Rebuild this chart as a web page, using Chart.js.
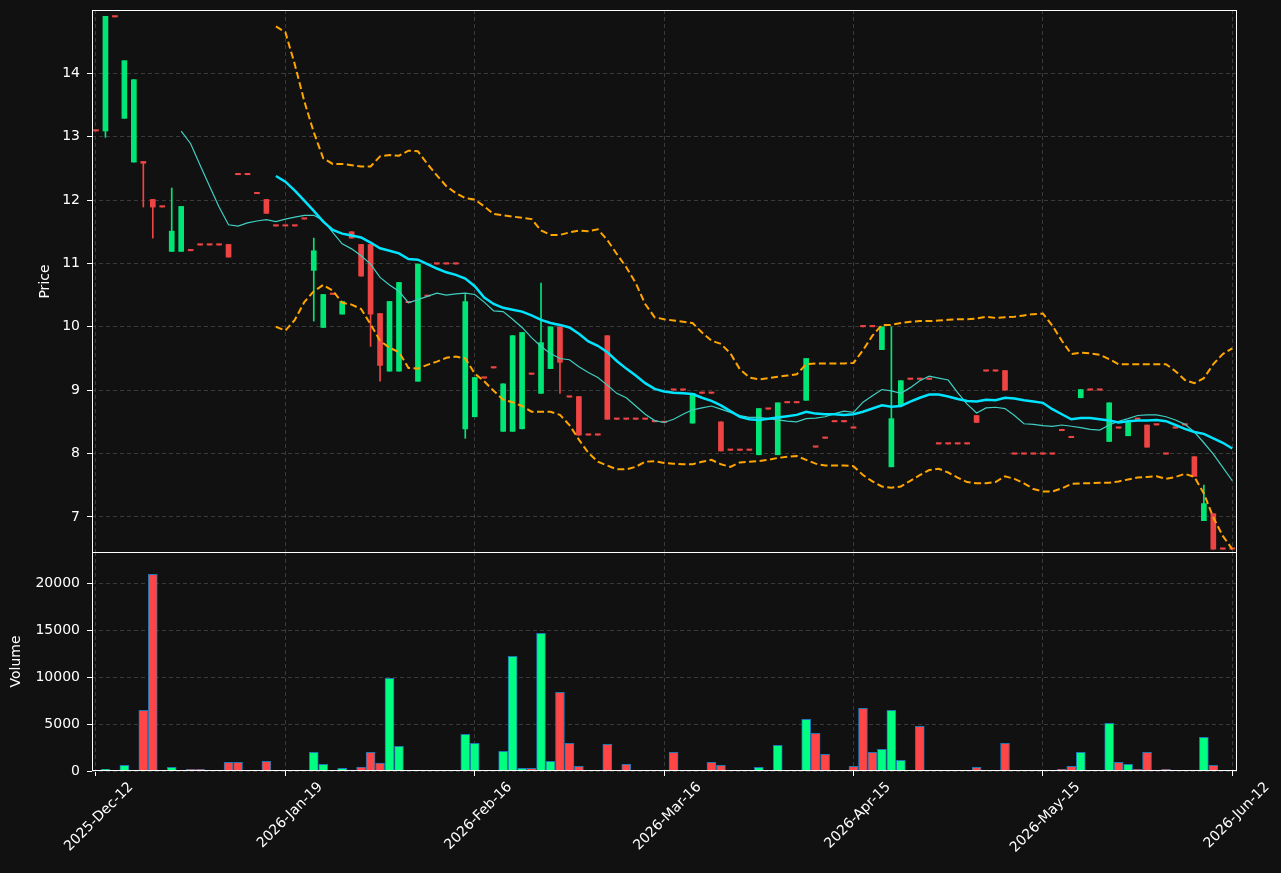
<!DOCTYPE html>
<html>
<head>
<meta charset="utf-8">
<title>Price and Volume</title>
<script src="https://cdn.jsdelivr.net/npm/chart.js@4.4.1/dist/chart.umd.min.js"></script>
<style>
  html, body { margin: 0; padding: 0; background: #111111; }
  #wrap { position: relative; width: 1281px; height: 873px; overflow: hidden; }
  #priceChart { position: absolute; left: 0; top: 0; }
  #volumeChart { position: absolute; left: 0; top: 552px; }
</style>
</head>
<body>
<div id="wrap">
  <canvas id="priceChart" width="1281" height="553"></canvas>
  <canvas id="volumeChart" width="1281" height="321"></canvas>
</div>
<script>
const tickIdx = [0, 20, 40, 60, 80, 100, 120];
const tickDates = ['2025-Dec-12', '2026-Jan-19', '2026-Feb-16', '2026-Mar-16', '2026-Apr-15', '2026-May-15', '2026-Jun-12'];
const priceTicks = [7, 8, 9, 10, 11, 12, 13, 14];
const volumeTicks = [0, 5000, 10000, 15000, 20000];

const open = [
  13.09, 13.09, 14.89, 13.29, 12.60, 12.61, 12.01, 11.89, 11.19, 11.19,
  11.20, 11.29, 11.29, 11.29, 11.30, 12.40, 12.40, 12.10, 12.01, 11.59,
  11.59, 11.59, 11.70, 10.89, 9.99, 10.51, 10.20, 11.50, 11.30, 11.30,
  10.21, 9.30, 9.30, 10.38, 9.14, 10.48, 10.99, 10.99, 10.99, 8.39,
  8.58, 9.19, 9.35, 8.35, 8.35, 8.39, 9.25, 8.95, 9.34, 10.00,
  8.89, 8.90, 8.29, 8.29, 9.86, 8.54, 8.54, 8.54, 8.54, 8.50,
  8.49, 9.00, 9.00, 8.48, 8.95, 8.95, 8.50, 8.05, 8.05, 8.05,
  7.98, 8.70, 7.98, 8.80, 8.80, 8.84, 8.10, 8.24, 8.50, 8.50,
  8.40, 10.00, 10.00, 9.64, 7.79, 8.77, 9.17, 9.17, 9.17, 8.15,
  8.15, 8.15, 8.15, 8.60, 9.30, 9.30, 9.31, 7.99, 7.99, 7.99,
  7.99, 7.99, 8.36, 8.25, 8.88, 9.00, 9.00, 8.19, 8.40, 8.28,
  8.54, 8.45, 8.45, 7.99, 8.40, 8.45, 7.95, 6.94, 7.05, 6.49,
  6.49
];
const high = [
  13.09, 14.90, 14.89, 14.20, 13.90, 12.61, 12.01, 11.89, 12.19, 11.90,
  11.20, 11.29, 11.29, 11.29, 11.30, 12.40, 12.40, 12.10, 12.01, 11.59,
  11.59, 11.59, 11.70, 11.40, 10.51, 10.51, 10.40, 11.50, 11.30, 11.30,
  10.21, 10.40, 10.70, 10.38, 10.99, 10.48, 10.99, 10.99, 10.99, 10.51,
  9.20, 9.19, 9.35, 9.10, 9.86, 9.91, 9.25, 10.69, 10.00, 10.00,
  8.89, 8.90, 8.29, 8.29, 9.86, 8.54, 8.54, 8.54, 8.54, 8.50,
  8.49, 9.00, 9.00, 8.95, 8.95, 8.95, 8.50, 8.05, 8.05, 8.05,
  8.71, 8.70, 8.80, 8.80, 8.80, 9.50, 8.10, 8.24, 8.50, 8.50,
  8.40, 10.00, 10.00, 10.00, 10.00, 9.15, 9.17, 9.17, 9.17, 8.15,
  8.15, 8.15, 8.15, 8.60, 9.30, 9.30, 9.31, 7.99, 7.99, 7.99,
  7.99, 7.99, 8.36, 8.25, 9.01, 9.00, 9.00, 8.80, 8.40, 8.49,
  8.54, 8.45, 8.45, 7.99, 8.40, 8.45, 7.95, 7.50, 7.05, 6.49,
  6.49
];
const low = [
  13.09, 12.99, 14.89, 13.29, 12.60, 11.89, 11.40, 11.89, 11.19, 11.19,
  11.20, 11.29, 11.29, 11.29, 11.10, 12.40, 12.40, 12.10, 11.79, 11.59,
  11.59, 11.59, 11.70, 10.09, 9.99, 10.51, 10.20, 11.40, 10.80, 9.69,
  9.14, 9.30, 9.30, 10.38, 9.14, 10.48, 10.99, 10.99, 10.99, 8.24,
  8.58, 9.19, 9.35, 8.35, 8.35, 8.39, 9.25, 8.95, 9.34, 8.95,
  8.89, 8.29, 8.29, 8.29, 8.54, 8.54, 8.54, 8.54, 8.54, 8.50,
  8.49, 9.00, 9.00, 8.48, 8.95, 8.95, 8.04, 8.05, 8.05, 8.05,
  7.98, 8.70, 7.98, 8.80, 8.80, 8.84, 8.10, 8.24, 8.50, 8.50,
  8.40, 10.00, 10.00, 9.64, 7.79, 8.77, 9.17, 9.17, 9.17, 8.15,
  8.15, 8.15, 8.15, 8.49, 9.30, 9.30, 9.00, 7.99, 7.99, 7.99,
  7.99, 7.99, 8.36, 8.25, 8.88, 9.00, 9.00, 8.19, 8.40, 8.28,
  8.54, 8.10, 8.45, 7.99, 8.40, 8.45, 7.64, 6.94, 6.49, 6.49,
  6.49
];
const close = [
  13.09, 14.90, 14.89, 14.20, 13.90, 12.58, 11.89, 11.89, 11.51, 11.90,
  11.20, 11.29, 11.29, 11.29, 11.10, 12.40, 12.40, 12.10, 11.79, 11.59,
  11.59, 11.59, 11.70, 11.20, 10.51, 10.51, 10.40, 11.40, 10.80, 10.20,
  9.39, 10.40, 10.70, 10.38, 10.99, 10.48, 10.99, 10.99, 10.99, 10.40,
  9.20, 9.19, 9.35, 9.10, 9.86, 9.91, 9.25, 9.75, 10.00, 9.44,
  8.89, 8.29, 8.29, 8.29, 8.54, 8.54, 8.54, 8.54, 8.54, 8.50,
  8.49, 9.00, 9.00, 8.95, 8.95, 8.95, 8.04, 8.05, 8.05, 8.05,
  8.71, 8.70, 8.80, 8.80, 8.80, 9.50, 8.10, 8.24, 8.50, 8.50,
  8.40, 10.00, 10.00, 10.00, 8.55, 9.15, 9.17, 9.17, 9.17, 8.15,
  8.15, 8.15, 8.15, 8.49, 9.30, 9.30, 9.00, 7.99, 7.99, 7.99,
  7.99, 7.99, 8.36, 8.25, 9.01, 9.00, 9.00, 8.80, 8.40, 8.49,
  8.54, 8.10, 8.45, 7.99, 8.40, 8.45, 7.64, 7.21, 6.49, 6.49,
  6.49
];
const volume = [
  null, 180, null, 600, null, 6460, 20930, null, 390, null,
  180, 180, null, 60, 920, 920, null, 60, 1030, null,
  null, null, 60, 1990, 710, null, 290, 60, 430, 1990,
  850, 9860, 2630, null, 50, null, null, null, null, 3900,
  2940, null, null, 2090, 12200, 290, 290, 14650, 1030, 8370,
  2940, 500, null, null, 2840, null, 710, null, null, null,
  50, 1990, null, null, null, 920, 600, null, null, null,
  390, null, 2730, null, null, 5500, 4010, 1780, null, null,
  500, 6670, 1990, 2310, 6460, 1140, null, 4750, null, 50,
  null, null, null, 390, null, null, 2940, null, null, null,
  null, null, 180, 500, 1990, null, null, 5070, 920, 710,
  180, 1990, 60, 180, 50, null, 50, 3580, 600, null,
  null
];
const ma10 = [
  null, null, null, null, null, null, null, null, null, 13.09,
  12.89, 12.55, 12.22, 11.89, 11.61, 11.59, 11.64, 11.67, 11.69, 11.66,
  11.70, 11.73, 11.76, 11.76, 11.68, 11.49, 11.31, 11.23, 11.12, 10.99,
  10.78, 10.66, 10.56, 10.38, 10.43, 10.48, 10.53, 10.50, 10.52, 10.53,
  10.51, 10.39, 10.25, 10.24, 10.12, 9.99, 9.83, 9.69, 9.58, 9.50,
  9.48, 9.37, 9.28, 9.20, 9.08, 8.95, 8.88, 8.75, 8.62, 8.52,
  8.49, 8.54, 8.62, 8.69, 8.72, 8.75, 8.70, 8.65, 8.60, 8.57,
  8.57, 8.55, 8.53, 8.51, 8.50, 8.55, 8.56, 8.58, 8.63, 8.67,
  8.65, 8.81, 8.91, 9.01, 8.99, 8.95, 9.04, 9.15, 9.22, 9.19,
  9.16, 8.96, 8.78, 8.64, 8.72, 8.73, 8.71, 8.60, 8.47, 8.46,
  8.44, 8.43, 8.45, 8.43, 8.41, 8.38, 8.37, 8.45, 8.51, 8.55,
  8.60, 8.61, 8.61, 8.58, 8.53, 8.46, 8.34, 8.17, 7.99, 7.78,
  7.57
];
const ma20 = [
  null, null, null, null, null, null, null, null, null, null,
  null, null, null, null, null, null, null, null, null, 12.38,
  12.29, 12.15, 11.99, 11.83, 11.66, 11.53, 11.47, 11.44, 11.41, 11.33,
  11.24, 11.20, 11.16, 11.07, 11.06, 10.99, 10.92, 10.86, 10.82, 10.76,
  10.64, 10.46, 10.36, 10.30, 10.27, 10.24, 10.18, 10.11, 10.06, 10.03,
  9.99, 9.89, 9.77, 9.70, 9.60, 9.46, 9.34, 9.23, 9.11, 9.02,
  8.98, 8.96, 8.95, 8.94, 8.88, 8.83, 8.76, 8.67, 8.58, 8.54,
  8.53, 8.55, 8.57, 8.59, 8.61, 8.66, 8.63, 8.62, 8.62, 8.61,
  8.62, 8.66, 8.71, 8.76, 8.74, 8.75, 8.82, 8.88, 8.93, 8.93,
  8.90, 8.86, 8.83, 8.82, 8.85, 8.84, 8.88, 8.87, 8.84, 8.82,
  8.80, 8.70, 8.62, 8.54, 8.56, 8.56, 8.54, 8.52, 8.49, 8.51,
  8.52, 8.52, 8.53, 8.51, 8.45, 8.39, 8.34, 8.31, 8.24, 8.17,
  8.08
];
const bbUpper = [
  null, null, null, null, null, null, null, null, null, null,
  null, null, null, null, null, null, null, null, null, 14.74,
  14.65, 14.14, 13.56, 13.07, 12.66, 12.57, 12.57, 12.55, 12.53, 12.53,
  12.69, 12.71, 12.70, 12.78, 12.77, 12.57, 12.39, 12.22, 12.11, 12.03,
  12.01, 11.90, 11.78, 11.76, 11.74, 11.72, 11.70, 11.52, 11.45, 11.45,
  11.49, 11.52, 11.51, 11.54, 11.37, 11.15, 10.94, 10.69, 10.36, 10.15,
  10.12, 10.10, 10.08, 10.06, 9.91, 9.78, 9.73, 9.58, 9.33, 9.20,
  9.17, 9.19, 9.21, 9.23, 9.25, 9.41, 9.42, 9.42, 9.42, 9.42,
  9.43, 9.63, 9.86, 10.03, 10.03, 10.06, 10.08, 10.09, 10.09, 10.10,
  10.11, 10.12, 10.12, 10.13, 10.16, 10.14, 10.15, 10.16, 10.18, 10.20,
  10.21, 10.02, 9.78, 9.57, 9.59, 9.58, 9.56, 9.49, 9.41, 9.41,
  9.41, 9.41, 9.41, 9.41, 9.30, 9.16, 9.11, 9.19, 9.41, 9.57,
  9.66
];
const bbLower = [
  null, null, null, null, null, null, null, null, null, null,
  null, null, null, null, null, null, null, null, null, 10.00,
  9.94, 10.11, 10.39, 10.56, 10.66, 10.57, 10.38, 10.35, 10.28, 10.04,
  9.78, 9.67, 9.60, 9.35, 9.34, 9.40, 9.45, 9.51, 9.53, 9.50,
  9.26, 9.14, 8.99, 8.85, 8.81, 8.75, 8.66, 8.66, 8.66, 8.61,
  8.45, 8.22, 8.01, 7.87, 7.81, 7.75, 7.75, 7.79, 7.87, 7.88,
  7.85, 7.84, 7.83, 7.83, 7.87, 7.90, 7.83, 7.79, 7.86, 7.87,
  7.88, 7.90, 7.93, 7.95, 7.96, 7.90, 7.84, 7.81, 7.81, 7.81,
  7.80, 7.66, 7.56, 7.48, 7.46, 7.48, 7.57, 7.66, 7.74, 7.76,
  7.70, 7.62, 7.55, 7.53, 7.53, 7.55, 7.64, 7.60, 7.53, 7.44,
  7.40, 7.40, 7.45, 7.52, 7.53, 7.53, 7.54, 7.54, 7.56, 7.59,
  7.62, 7.63, 7.64, 7.60, 7.63, 7.68, 7.63, 7.37, 6.99, 6.70,
  6.49
];

const upColor = '#00e676';
const downColor = '#ef4444';
const volUpColor = '#00ff80';
const volDownColor = '#ff4545';
const gridColor = '#3a3a3a';
const textColor = '#ffffff';
const FONT = { family: 'DejaVu Sans', size: 14 };

const isUp = close.map((c, i) => c > open[i]);
const candleColors = isUp.map(u => u ? upColor : downColor);

function pts(arr) {
  return arr.map((v, i) => ({ x: i, y: v }));
}

function noPadding(s) {
  s.paddingTop = 0;
  s.paddingBottom = 0;
  s.paddingLeft = 0;
  s.paddingRight = 0;
}

const framePlugin = {
  id: 'frame',
  afterDraw(chart) {
    const { ctx, chartArea: a } = chart;
    ctx.save();
    ctx.strokeStyle = '#ffffff';
    ctx.lineWidth = 1;
    ctx.strokeRect(Math.round(a.left) + 0.5, Math.round(a.top) + 0.5,
      Math.round(a.right - a.left) - 1, Math.round(a.bottom - a.top) - 1);
    ctx.restore();
  }
};

function xAxis(showLabels) {
  return {
    type: 'linear',
    min: -0.42,
    max: 120.5,
    offset: false,
    afterBuildTicks: s => { s.ticks = tickIdx.map(v => ({ value: v })); },
    afterFit: s => { s.height = showLabels ? 102 : 0; noPadding(s); },
    ticks: {
      display: showLabels,
      color: textColor,
      font: FONT,
      minRotation: 45,
      maxRotation: 45,
      autoSkip: false,
      labelOffset: 35,
      padding: 3,
      callback: (v, i) => tickDates[i]
    },
    grid: { color: gridColor, offset: false, drawTicks: showLabels, tickColor: '#ffffff', tickLength: 5 },
    border: { display: false, dash: [4, 3] }
  };
}

function yAxis(min, max, ticks, title, titlePad) {
  return {
    type: 'linear',
    min: min,
    max: max,
    afterBuildTicks: s => { s.ticks = ticks.map(v => ({ value: v })); },
    afterFit: s => { s.width = 92; noPadding(s); },
    ticks: { color: textColor, font: FONT, padding: 7, callback: v => String(v) },
    grid: { color: gridColor, tickColor: '#ffffff', tickLength: 5 },
    border: { display: false, dash: [4, 3] },
    title: { display: true, text: title, color: textColor, font: FONT, padding: { top: titlePad, bottom: 0 } }
  };
}

new Chart(document.getElementById('priceChart'), {
  type: 'bar',
  data: {
    datasets: [
      {
        type: 'line', label: 'MA10', data: pts(ma10),
        borderColor: '#3fcfc2', borderWidth: 1.2, pointRadius: 0, order: 1
      },
      {
        type: 'line', label: 'MA20', data: pts(ma20),
        borderColor: '#00e5ff', borderWidth: 2.5, pointRadius: 0, order: 0
      },
      {
        type: 'line', label: 'BB upper', data: pts(bbUpper),
        borderColor: '#ffa500', borderWidth: 2, borderDash: [7, 3.5], pointRadius: 0, order: 0
      },
      {
        type: 'line', label: 'BB lower', data: pts(bbLower),
        borderColor: '#ffa500', borderWidth: 2, borderDash: [7, 3.5], pointRadius: 0, order: 0
      },
      {
        label: 'wick', data: low.map((l, i) => ({ x: i, y: [l, high[i]] })),
        backgroundColor: candleColors, barThickness: 1, grouped: false, order: 3
      },
      {
        label: 'body', data: open.map((o, i) => ({ x: i, y: [o, close[i]] })),
        backgroundColor: candleColors, barThickness: 5, minBarLength: 1.4, grouped: false, order: 2
      }
    ]
  },
  options: {
    responsive: false,
    animation: false,
    layout: { padding: { top: 10, right: 44, bottom: 0, left: 0 } },
    plugins: { legend: { display: false }, tooltip: { enabled: false } },
    scales: {
      x: xAxis(false),
      y: yAxis(6.43, 15.0, priceTicks, 'Price', 37)
    }
  },
  plugins: [framePlugin]
});

const volIdx = volume.map((v, i) => i).filter(i => volume[i] !== null);

new Chart(document.getElementById('volumeChart'), {
  type: 'bar',
  data: {
    datasets: [{
      label: 'Volume',
      data: volIdx.map(i => ({ x: i, y: volume[i] })),
      backgroundColor: volIdx.map(i => isUp[i] ? volUpColor : volDownColor),
      borderColor: '#1f77b4',
      borderWidth: 1,
      barThickness: 9,
      minBarLength: 1,
      grouped: false
    }]
  },
  options: {
    responsive: false,
    animation: false,
    layout: { padding: { top: 0, right: 44, bottom: 0, left: 0 } },
    plugins: { legend: { display: false }, tooltip: { enabled: false } },
    scales: {
      x: xAxis(true),
      y: yAxis(0, 23300, volumeTicks, 'Volume', 8)
    }
  },
  plugins: [framePlugin]
});
</script>
</body>
</html>
